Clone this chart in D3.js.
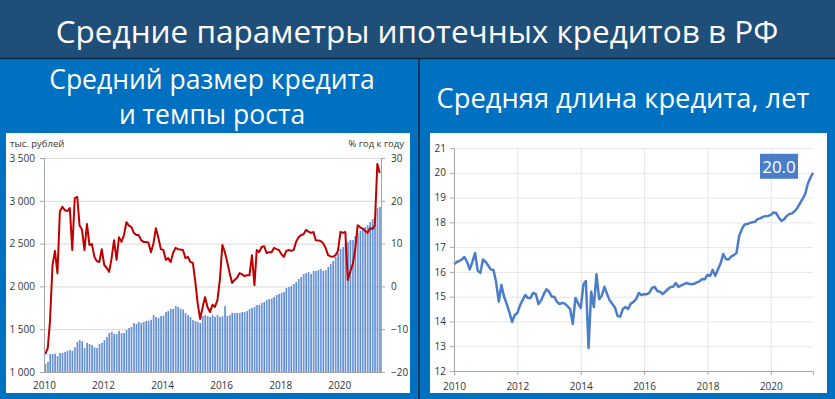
<!DOCTYPE html>
<html>
<head>
    <meta charset="utf-8">
    <title>Средние параметры ипотечных кредитов в РФ</title>
    <style>
        html,
        body {
            margin: 0px;
            padding: 0px;
            background: #0070c0;
        }

        svg {
            display: block;
            font-family: 'Open Sans', sans-serif;
        }

        .tick text {
            fill: #333;
        }
    </style>
    <script src="https://d3js.org/d3.v7.min.js"></script>
</head>
<body>
<script>

    // monthly data, Jan 2010 .. May 2021
    var startYear = 2010;
    var yearTicks = [2010, 2012, 2014, 2016, 2018, 2020];

    // average loan size, thousand rubles
    var loanSize = [1093, 1117, 1210, 1210, 1215, 1187, 1222, 1222, 1233, 1245,
        1257, 1245, 1290, 1350, 1373, 1360, 1280, 1340, 1327, 1315,
        1290, 1280, 1327, 1340, 1373, 1410, 1455, 1467, 1443, 1443,
        1480, 1455, 1455, 1490, 1514, 1525, 1572, 1560, 1584, 1572,
        1584, 1596, 1596, 1610, 1665, 1642, 1630, 1654, 1660, 1700,
        1712, 1736, 1736, 1770, 1760, 1740, 1730, 1690, 1665, 1642,
        1607, 1595, 1584, 1572, 1654, 1665, 1654, 1642, 1665, 1645,
        1665, 1642, 1650, 1770, 1654, 1665, 1690, 1690, 1690, 1690,
        1700, 1700, 1712, 1736, 1748, 1760, 1782, 1782, 1806, 1817,
        1841, 1853, 1860, 1876, 1900, 1911, 1923, 1935, 1981, 1993,
        2005, 2028, 2051, 2086, 2110, 2145, 2156, 2168, 2145, 2180,
        2180, 2191, 2203, 2180, 2191, 2226, 2261, 2296, 2343, 2390,
        2436, 2460, 2506, 2518, 2542, 2542, 2588, 2623, 2647, 2670,
        2693, 2717, 2752, 2787, 2810, 2915, 2927];

    // loan size growth, % year on year
    var loanGrowth = [-15.8, -14.4, -8, 5, 8.3, 3.1, 17.5, 18.6, 17.8, 17.6,
        18.3, 8.5, 20.6, 20.9, 14.3, 13.2, 8.5, 14.6, 9.7, 9.9,
        6.9, 5.9, 5.7, 8.7, 5.0, 4.3, 3.4, 6.6, 10.8, 6.2,
        11.5, 10.4, 12.0, 15.0, 14.2, 13.9, 12.5, 12.0, 12.0, 10.8,
        10.4, 10.4, 10.2, 8.0, 10.1, 13.6, 11.3, 8.7, 8.5, 6.2,
        6.6, 5.7, 7.8, 9.0, 8.7, 8.6, 8.5, 6.6, 6.9, 5.7,
        5.5, 1, -3.9, -7.6, -5, -2.5, -4.8, -6, -4.3, -4.8,
        -3.2, 1.5, 9.7, 8, 5.7, 3, 0.8, 1.5, 2.0, 3.1,
        2.8, 2.4, 2.6, 2.6, 7.3, 0.3, 8.5, 8.0, 9.2, 9.4,
        7.8, 8.0, 8.0, 9.0, 8.7, 8.5, 7.5, 6.9, 8.3, 8.5,
        8.3, 8.5, 10.4, 11.5, 12.0, 12.2, 13.2, 12.8, 12.5, 12.7,
        10.8, 10.7, 10.6, 10.1, 9.0, 7.3, 7.0, 6.9, 7.3, 8.3,
        12.7, 12.5, 12.7, 1.5, 3.5, 5.2, 8.5, 14.3, 13.8, 13.5,
        13.0, 12.5, 13.6, 13.4, 14.3, 28.6, 26.5];

    // average loan term, years
    var loanTerm = [16.3, 16.4, 16.44, 16.5, 16.6, 16.4, 16.1, 16.4, 16.76, 16.05,
        15.96, 16.5, 16.4, 16.25, 16.1, 16.08, 15.6, 14.8, 15.47, 15.0,
        14.7, 14.38, 13.98, 14.25, 14.34, 14.65, 14.85, 15.07, 14.95, 14.95,
        15.15, 15.1, 14.7, 14.85, 15.1, 15.3, 15.2, 15.0, 15.0, 14.8,
        14.7, 14.75, 14.72, 14.62, 14.5, 13.9, 14.95, 14.74, 14.54, 15.5,
        15.63, 12.93, 15.2, 14.58, 15.9, 14.9, 15.05, 15.4, 15.1, 14.85,
        14.7, 14.55, 14.22, 14.2, 14.5, 14.58, 14.5, 14.72, 14.79, 14.9,
        15.15, 15.07, 15.1, 15.1, 15.15, 15.35, 15.4, 15.23, 15.2, 15.1,
        15.2, 15.3, 15.39, 15.4, 15.55, 15.39, 15.45, 15.5, 15.55, 15.52,
        15.5, 15.52, 15.58, 15.62, 15.71, 15.7, 15.88, 15.84, 16.08, 15.84,
        16.1, 16.35, 16.72, 16.52, 16.5, 16.62, 16.68, 16.76, 17.45, 17.72,
        17.9, 17.93, 17.97, 18.0, 18.02, 18.13, 18.16, 18.22, 18.25, 18.26,
        18.3, 18.4, 18.38, 18.2, 18.06, 18.12, 18.25, 18.34, 18.36, 18.45,
        18.58, 18.76, 18.95, 19.15, 19.55, 19.8, 20.0];

    var sizeTicks = [1000, 1500, 2000, 2500, 3000, 3500];
    var growthTicks = [-20, -10, 0, 10, 20, 30];
    var termTicks = [12, 13, 14, 15, 16, 17, 18, 19, 20, 21];

    var title = "Средние параметры ипотечных кредитов в РФ";
    var leftTitle = ["Средний размер кредита", "и темпы роста"];
    var rightTitle = "Средняя длина кредита, лет";

    var month = function(i) {
        return new Date(startYear, i, 1);
    };

    var fmtSize = function(d) {
        return d3.format(",")(d).replace(",", " ");
    };

    var width = 835, height = 399;

    var svg = d3.select("body").append("svg")
        .attr("width", width)
        .attr("height", height);

    // background blocks
    svg.append("rect").attr("width", width).attr("height", height).attr("fill", "#0070c0");
    svg.append("rect").attr("width", width).attr("height", 58).attr("fill", "#1f4e79");
    svg.append("line").attr("x1", 0).attr("x2", width).attr("y1", 58.5).attr("y2", 58.5)
        .attr("stroke", "#10243a").attr("stroke-width", 1.5);
    svg.append("line").attr("x1", 419).attr("x2", 419).attr("y1", 59).attr("y2", height)
        .attr("stroke", "#10243a").attr("stroke-width", 1.5);

    svg.append("text")
        .attr("x", 417).attr("y", 43)
        .attr("text-anchor", "middle")
        .attr("fill", "#fff")
        .style("font-size", "31.5px")
        .text(title);

    svg.selectAll(".lt").data(leftTitle).enter().append("text")
        .attr("x", 212)
        .attr("y", function(d, i) { return 89 + i * 35; })
        .attr("text-anchor", "middle")
        .attr("fill", "#fff")
        .style("font-size", "26.5px")
        .text(function(d) { return d; });

    svg.append("text")
        .attr("x", 623).attr("y", 108)
        .attr("text-anchor", "middle")
        .attr("fill", "#fff")
        .style("font-size", "27.3px")
        .text(rightTitle);

    svg.append("rect").attr("x", 6).attr("y", 133).attr("width", 404).attr("height", 260).attr("fill", "#fff");
    svg.append("rect").attr("x", 430).attr("y", 133).attr("width", 397).attr("height", 260).attr("fill", "#fff");

    // ---------- left chart ----------
    var L = { left: 44, right: 381, top: 158, bottom: 372 };

    var xL = d3.scaleTime()
        .domain([month(0), month(loanSize.length)])
        .range([L.left, L.right]);
    var ySize = d3.scaleLinear().domain([1000, 3500]).range([L.bottom, L.top]);
    var yGrowth = d3.scaleLinear().domain([-20, 30]).range([L.bottom, L.top]);

    var gl = svg.append("g");

    gl.selectAll(".grid").data(sizeTicks.slice(1)).enter().append("line")
        .attr("x1", L.left).attr("x2", L.right)
        .attr("y1", function(d) { return ySize(d) + 0.5; })
        .attr("y2", function(d) { return ySize(d) + 0.5; })
        .attr("stroke", "#d9d9d9");

    var defs = svg.append("defs");
    var grad = defs.append("linearGradient").attr("id", "barGrad")
        .attr("x1", "0").attr("x2", "1").attr("y1", "0").attr("y2", "0");
    grad.append("stop").attr("offset", "0%").attr("stop-color", "#9dbbea");
    grad.append("stop").attr("offset", "100%").attr("stop-color", "#3f73c6");

    var step = xL(month(1)) - xL(month(0));

    gl.selectAll(".bar").data(loanSize).enter().append("rect")
        .attr("x", function(d, i) { return xL(month(i)) + 0.35; })
        .attr("width", step - 0.7)
        .attr("y", function(d) { return ySize(d); })
        .attr("height", function(d) { return L.bottom - ySize(d); })
        .attr("fill", "url(#barGrad)");

    var redLine = d3.line()
        .x(function(d, i) { return xL(month(i)) + step / 2; })
        .y(function(d) { return yGrowth(d); });

    gl.append("path")
        .attr("d", redLine(loanGrowth))
        .attr("fill", "none")
        .attr("stroke", "#c00000")
        .attr("stroke-width", 2)
        .attr("stroke-linejoin", "round");

    var axisLeft = d3.axisLeft(ySize).tickValues(sizeTicks).tickSize(4).tickPadding(5)
        .tickFormat(fmtSize);
    var axisRight = d3.axisRight(yGrowth).tickValues(growthTicks).tickSize(4).tickPadding(6);
    var axisBottom = d3.axisBottom(xL)
        .tickValues(yearTicks.map(function(y) { return new Date(y, 0, 1); }))
        .tickSize(0).tickPadding(10)
        .tickFormat(d3.timeFormat("%Y"));

    var styleAxis = function(g, size) {
        g.select(".domain").attr("stroke", "#a6a6a6");
        g.selectAll(".tick line").attr("stroke", "#a6a6a6");
        g.selectAll(".tick text").style("font-size", size).style("font-family", "'Open Sans', sans-serif");
    };

    gl.append("g").attr("transform", "translate(" + L.left + ",0)").call(axisLeft)
        .call(function(g) { styleAxis(g, "10px"); });
    gl.append("g").attr("transform", "translate(" + L.right + ",0)").call(axisRight)
        .call(function(g) { styleAxis(g, "10px"); });
    gl.append("g").attr("transform", "translate(0," + L.bottom + ")").call(axisBottom)
        .call(function(g) { styleAxis(g, "10px"); });

    gl.append("text").attr("x", 10).attr("y", 147)
        .attr("fill", "#333").style("font-size", "9.5px").text("тыс. рублей");
    gl.append("text").attr("x", 404).attr("y", 147).attr("text-anchor", "end")
        .attr("fill", "#333").style("font-size", "9.5px").text("% год к году");

    // ---------- right chart ----------
    var R = { left: 454, right: 813, top: 148, bottom: 371 };

    var xR = d3.scaleTime()
        .domain([month(0), month(loanTerm.length - 1)])
        .range([R.left, R.right]);
    var yTerm = d3.scaleLinear().domain([12, 21]).range([R.bottom, R.top]);

    var gr = svg.append("g");

    gr.selectAll(".hgrid").data(termTicks.slice(1)).enter().append("line")
        .attr("x1", R.left).attr("x2", R.right)
        .attr("y1", function(d) { return yTerm(d) + 0.5; })
        .attr("y2", function(d) { return yTerm(d) + 0.5; })
        .attr("stroke", "#e6e6e6");

    gr.selectAll(".vgrid").data(yearTicks.slice(1)).enter().append("line")
        .attr("x1", function(d) { return xR(new Date(d, 0, 1)) + 0.5; })
        .attr("x2", function(d) { return xR(new Date(d, 0, 1)) + 0.5; })
        .attr("y1", R.top).attr("y2", R.bottom)
        .attr("stroke", "#e6e6e6");

    var blueLine = d3.line()
        .x(function(d, i) { return xR(month(i)); })
        .y(function(d) { return yTerm(d); });

    gr.append("path")
        .attr("d", blueLine(loanTerm))
        .attr("fill", "none")
        .attr("stroke", "#4a7ec8")
        .attr("stroke-width", 2.5)
        .attr("stroke-linejoin", "round");

    var axisTerm = d3.axisLeft(yTerm).tickValues(termTicks).tickSize(4).tickPadding(4);
    var axisYears = d3.axisBottom(xR)
        .tickValues(yearTicks.map(function(y) { return new Date(y, 0, 1); }))
        .tickSize(4).tickPadding(8)
        .tickFormat(d3.timeFormat("%Y"));

    gr.append("g").attr("transform", "translate(" + R.left + ",0)").call(axisTerm)
        .call(function(g) { styleAxis(g, "10px"); });
    gr.append("g").attr("transform", "translate(0," + R.bottom + ")").call(axisYears)
        .call(function(g) { styleAxis(g, "10px"); });

    // last value label
    var last = loanTerm[loanTerm.length - 1];
    var lx = xR(month(loanTerm.length - 1)) - 34;
    var ly = yTerm(last) - 6;

    gr.append("rect")
        .attr("x", lx - 19).attr("y", ly - 13)
        .attr("width", 38).attr("height", 25)
        .attr("fill", "#4a7ec8");
    gr.append("text")
        .attr("x", lx).attr("y", ly + 6)
        .attr("text-anchor", "middle")
        .attr("fill", "#fff")
        .style("font-size", "17px")
        .text(d3.format(".1f")(last));

</script>
</body>
</html>
